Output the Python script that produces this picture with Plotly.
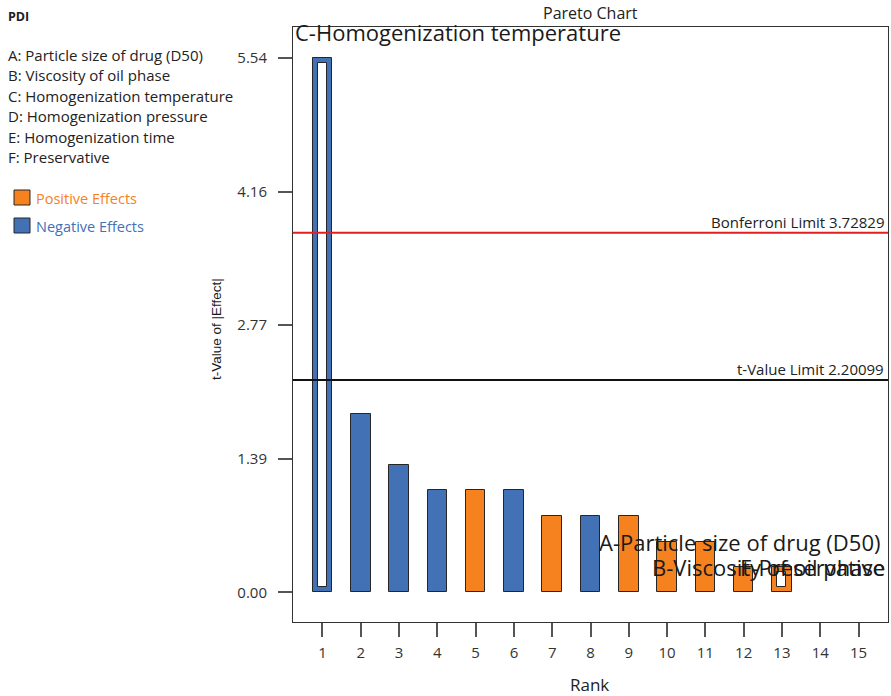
import plotly.graph_objects as go

# Pareto chart of standardized effects for PDI
ranks = list(range(1, 14))
t_values = [5.54, 1.85, 1.32, 1.06, 1.06, 1.06, 0.79, 0.79, 0.79, 0.52, 0.52, 0.26, 0.26]
effect_sign = ["neg", "neg", "neg", "neg", "pos", "neg", "pos", "neg", "pos", "pos", "pos", "pos", "pos"]
model_terms = [1, 13]          # ranks drawn hollow (terms kept in the model)

factors = [
    "A: Particle size of drug (D50)",
    "B: Viscosity of oil phase",
    "C: Homogenization temperature",
    "D: Homogenization pressure",
    "E: Homogenization time",
    "F: Preservative",
]
term_labels = [
    ("C-Homogenization temperature", 1),
    ("A-Particle size of drug (D50)", 10),
    ("B-Viscosity of oil phase", 12),
    ("F-Preservative", 13),
]

bonferroni_limit = 3.72829
t_value_limit = 2.20099

y_tick_vals = [0.0, 1.385, 2.77, 4.155, 5.54]
y_tick_text = ["0.00", "1.39", "2.77", "4.16", "5.54"]
x_tick_vals = list(range(1, 16))

ORANGE = "#F5821F"
BLUE = "#4371B5"
EDGE = "#262626"
FONT = "Open Sans"

W, H = 891, 696
L, R, T, B = 293, 888, 27, 622


def px(x):
    return (x - L) / (R - L)


def py(y):
    return (B - y) / (B - T)


colors = [ORANGE if s == "pos" else BLUE for s in effect_sign]

fig = go.Figure()
fig.add_trace(go.Bar(
    x=ranks, y=t_values, width=0.51,
    marker=dict(color=colors, line=dict(color=EDGE, width=1)),
    showlegend=False, hoverinfo="x+y",
))

# hollow centre for model terms
inset = 0.052
hx = [r for r in ranks if r in model_terms]
hy = [t_values[r - 1] - 2 * inset for r in hx]
fig.add_trace(go.Bar(
    x=hx, y=hy, base=[inset] * len(hx), width=0.235,
    marker=dict(color="white", line=dict(color=EDGE, width=1)),
    showlegend=False, hoverinfo="skip",
))

# significance limits
fig.add_hline(y=bonferroni_limit, line=dict(color="#E02020", width=2))
fig.add_hline(y=t_value_limit, line=dict(color="#111111", width=2))
for name, val in [("Bonferroni Limit", bonferroni_limit), ("t-Value Limit", t_value_limit)]:
    fig.add_annotation(x=1, xref="paper", xanchor="right", xshift=-2,
                       y=val, yanchor="bottom", yshift=-1,
                       text=f"{name} {val}", showarrow=False,
                       font=dict(family=FONT, size=15, color="#222"))

# term labels
for text, rank in term_labels:
    if rank == 1:
        fig.add_annotation(x=0, xref="paper", xanchor="left", xshift=0,
                           y=1, yref="paper", yanchor="top", yshift=12,
                           text=text, showarrow=False,
                           font=dict(family=FONT, size=22, color="#1a1a1a"))
    else:
        shift = -6 if rank == 10 else -1
        fig.add_annotation(x=1, xref="paper", xanchor="right", xshift=shift,
                           y=t_values[rank - 1], yanchor="middle", yshift=0,
                           text=text, showarrow=False,
                           font=dict(family=FONT, size=22, color="#1a1a1a"))

# titles
fig.add_annotation(x=0.5, xref="paper", xanchor="center", y=1, yref="paper",
                   yanchor="bottom", yshift=1,
                   text="Pareto Chart", showarrow=False,
                   font=dict(family=FONT, size=16, color="#222"))
fig.add_annotation(x=px(216), xref="paper", xanchor="center", y=py(329), yref="paper",
                   yanchor="middle", textangle=-90,
                   text="t-Value of |Effect|", showarrow=False,
                   font=dict(family="Liberation Sans", size=13.5, color="#1a1a1a"))
fig.add_annotation(x=px(589), xref="paper", xanchor="center", y=py(684), yref="paper",
                   yanchor="middle",
                   text="Rank", showarrow=False,
                   font=dict(family=FONT, size=17, color="#222"))

# left panel: response name, factor list, effect key
fig.add_annotation(x=px(6), xref="paper", xanchor="left", y=py(16), yref="paper",
                   yanchor="middle",
                   text="<b>PDI</b>", showarrow=False,
                   font=dict(family=FONT, size=12.5, color="#222"))
for i, f in enumerate(factors):
    fig.add_annotation(x=px(6), xref="paper", xanchor="left", y=py(55 + i * 20.4), yref="paper",
                       yanchor="middle",
                       text=f, showarrow=False,
                       font=dict(family=FONT, size=15, color="#222"))
for (label, col, yc) in [("Positive Effects", ORANGE, 198), ("Negative Effects", BLUE, 226)]:
    fig.add_shape(type="rect", xref="paper", yref="paper",
                  x0=px(14), x1=px(30), y0=py(yc - 8), y1=py(yc + 7),
                  fillcolor=col, line=dict(color=EDGE, width=1))
    fig.add_annotation(x=px(34), xref="paper", xanchor="left", y=py(yc), yref="paper",
                       yanchor="middle",
                       text=label, showarrow=False,
                       font=dict(family=FONT, size=14.5, color=col))

fig.update_layout(
    width=W, height=H,
    margin=dict(l=L, r=W - R, t=T, b=H - B),
    paper_bgcolor="white", plot_bgcolor="white",
    barmode="overlay", bargap=0,
    showlegend=False,
    font=dict(family=FONT, color="#333"),
)
fig.update_xaxes(
    range=[0.23, 15.77], tickvals=x_tick_vals, ticks="outside", ticklen=14,
    tickcolor="#555", tickwidth=1.5, showgrid=False, zeroline=False,
    showline=True, linecolor="#333", linewidth=1, mirror=True,
    tickfont=dict(family=FONT, size=15, color="#333"), ticklabelstandoff=3,
)
fig.update_yaxes(
    range=[-0.308, 5.861], tickvals=y_tick_vals, ticktext=y_tick_text,
    ticks="outside", ticklen=14, tickcolor="#555", tickwidth=1.5,
    showgrid=False, zeroline=False,
    showline=True, linecolor="#333", linewidth=1, mirror=True,
    tickfont=dict(family=FONT, size=15, color="#333"), ticklabelstandoff=8,
)

fig.write_html("out.html")
